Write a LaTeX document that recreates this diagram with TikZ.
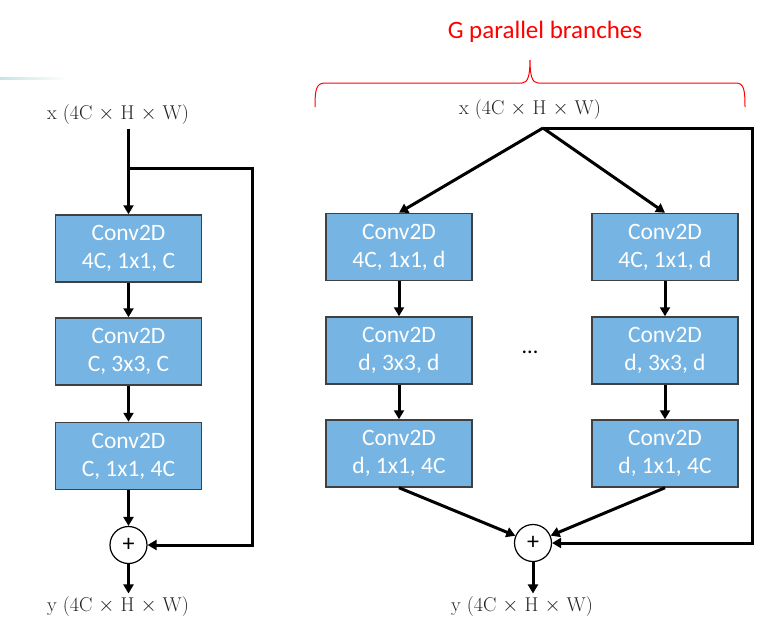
\documentclass[tikz,border=0pt]{standalone}
\usepackage{fontspec}
\newfontfamily\boxfont{Carlito}
\usetikzlibrary{arrows.meta}
\definecolor{convblue}{RGB}{117,180,227}
\definecolor{convedge}{RGB}{64,64,64}
\definecolor{labelgray}{RGB}{35,35,35}
\tikzset{
	conv/.style={draw=convedge,line width=1.5pt,fill=convblue,minimum width=146pt,minimum height=67pt,inner sep=0pt,text=white,align=center,font=\boxfont\fontsize{23.5}{28}\selectfont},
	addnode/.style={draw,circle,line width=1.2pt,minimum size=37pt,inner sep=0pt,font=\boxfont\fontsize{24}{24}\selectfont},
	dimlabel/.style={text=labelgray,font=\fontsize{20}{24}\selectfont},
	flow/.style={line width=3pt,-{Triangle[length=9pt,width=10pt]}},
}
\begin{document}
\begin{tikzpicture}[x=1pt,y=-1pt]
		\useasboundingbox (0,0) rectangle (772,641);
		\shade[left color=teal!22,right color=white] (0,77) rectangle (68,79.5);
		% plain bottleneck block
		\node (xl) at (118,115) [dimlabel] {x (4C $\times$ H $\times$ W)};
		\node (l1) at (128.5,248.5) [conv] {Conv2D\\4C, 1x1, C};
		\node (l2) at (128.5,351.5) [conv] {Conv2D\\C, 3x3, C};
		\node (l3) at (128.5,456) [conv] {Conv2D\\C, 1x1, 4C};
		\node (ladd) at (128.5,545) [addnode] {+};
		\node (yl) at (118,607) [dimlabel] {y (4C $\times$ H $\times$ W)};
		\coordinate (lsplit) at (128.5,168);
		\coordinate (lturn) at (252,168);
		\draw [flow] (xl.south -| l1.north) -- (l1);
		\draw [flow] (l1) -- (l2);
		\draw [flow] (l2) -- (l3);
		\draw [flow] (l3) -- (ladd);
		\draw [flow] (lsplit) -- (lturn) |- (ladd);
		\draw [flow] (ladd) -- (ladd |- yl.north);
		% grouped block
		\node (gtitle) at (545,32) [red,font=\boxfont\fontsize{25}{28}\selectfont] {G parallel branches};
		\draw [red,line width=1pt] (315,107) .. controls (315,90) and (316,83) .. (325,83) -- (522,83) .. controls (528,83) and (530,75) .. (530,60) .. controls (530,75) and (532,83) .. (538,83) -- (736,83) .. controls (744,83) and (745,90) .. (745,107);
		\node (xr) at (530,110) [dimlabel] {x (4C $\times$ H $\times$ W)};
		\foreach \b/\x in {a/399,b/665}
		{
			\node (\b1) at (\x,247) [conv] {Conv2D\\4C, 1x1, d};
			\node (\b2) at (\x,350.5) [conv] {Conv2D\\d, 3x3, d};
			\node (\b3) at (\x,453.5) [conv] {Conv2D\\d, 1x1, 4C};
			\draw [flow] (\b1) -- (\b2);
			\draw [flow] (\b2) -- (\b3);
		}
		\node (dots) at (530,352) [font=\boxfont\fontsize{22}{22}\selectfont] {...};
		\node (radd) at (533,543) [addnode] {+};
		\node (yr) at (522,607) [dimlabel] {y (4C $\times$ H $\times$ W)};
		\coordinate (rsplit) at (543,128);
		\coordinate (rturn) at (752,128);
		\draw [flow] (rsplit) -- (a1.north);
		\draw [flow] (rsplit) -- (b1.north);
		\draw [flow] (a3.south) -- (radd);
		\draw [flow] (b3.south) -- (radd);
		\draw [flow] (rsplit) -- (rturn) |- (radd);
		\draw [flow] (radd) -- (radd |- yr.north);
\end{tikzpicture}
\end{document}
